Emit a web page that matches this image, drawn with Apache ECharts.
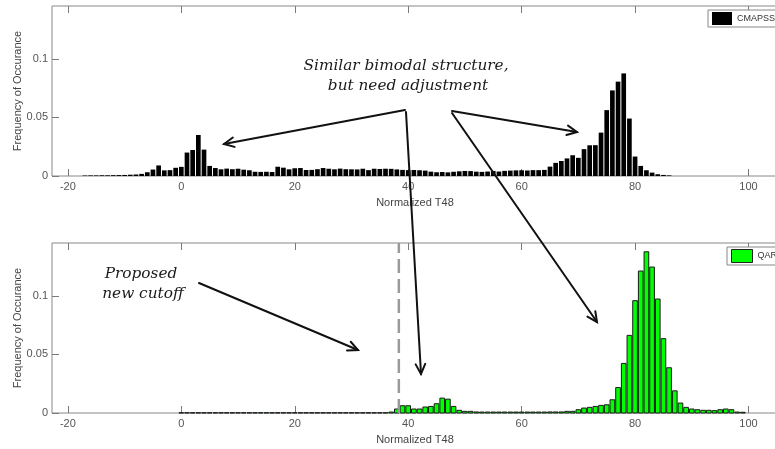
<!DOCTYPE html>
<html>
<head>
<meta charset="utf-8">
<script src="https://cdn.jsdelivr.net/npm/echarts@6/dist/echarts.min.js"></script>
<style>
  html, body { margin: 0; padding: 0; background: #fff; }
  #chart { width: 775px; height: 449px; }
</style>
</head>
<body>
<div id="chart"></div>
<script>
// Axis ticks shared by both panels
const xTicks = [-20, 0, 20, 40, 60, 80, 100];
const yTicks = [0, 0.05, 0.1];

// CMAPSS histogram: bin centres (normalized T48) and frequency of occurrence
const cmapssBins = [
  -17, -16, -15, -14, -13, -12, -11, -10, -9, -8, -7, -6, -5, -4, -3, -2, -1,
  0, 1, 2, 3, 4, 5, 6, 7, 8, 9, 10, 11, 12, 13, 14, 15, 16, 17, 18, 19,
  20, 21, 22, 23, 24, 25, 26, 27, 28, 29, 30, 31, 32, 33, 34, 35, 36, 37, 38, 39,
  40, 41, 42, 43, 44, 45, 46, 47, 48, 49, 50, 51, 52, 53, 54, 55, 56, 57, 58, 59,
  60, 61, 62, 63, 64, 65, 66, 67, 68, 69, 70, 71, 72, 73, 74, 75, 76, 77, 78, 79,
  80, 81, 82, 83, 84, 85, 86
];
const cmapssFreq = [
  0.0004, 0.0005, 0.0005, 0.0006, 0.0006, 0.0007, 0.0008, 0.0009, 0.0011, 0.0013, 0.0018, 0.0032, 0.0055, 0.0090, 0.0048, 0.0050, 0.0070,
  0.0078, 0.0200, 0.0222, 0.0350, 0.0225, 0.0086, 0.0068, 0.0057, 0.0063, 0.0058, 0.0062, 0.0054, 0.0049, 0.0036, 0.0035, 0.0036, 0.0034, 0.0079, 0.0071, 0.0057,
  0.0066, 0.0068, 0.0051, 0.0052, 0.0058, 0.0068, 0.0062, 0.0057, 0.0063, 0.0058, 0.0057, 0.0056, 0.0062, 0.0050, 0.0062, 0.0060, 0.0062, 0.0061, 0.0056, 0.0052,
  0.0050, 0.0051, 0.0049, 0.0046, 0.0037, 0.0032, 0.0034, 0.0031, 0.0036, 0.0040, 0.0043, 0.0042, 0.0037, 0.0035, 0.0038, 0.0043, 0.0038, 0.0044, 0.0046, 0.0048,
  0.0049, 0.0047, 0.0050, 0.0050, 0.0052, 0.0080, 0.0112, 0.0128, 0.0150, 0.0177, 0.0155, 0.0229, 0.0262, 0.0263, 0.0370, 0.0562, 0.0730, 0.0805, 0.0875, 0.0490,
  0.0166, 0.0086, 0.0049, 0.0029, 0.0015, 0.0009, 0.0005
];

// QAR histogram: bin centres and frequency of occurrence
const qarBins = [
  0, 1, 2, 3, 4, 5, 6, 7, 8, 9, 10, 11, 12, 13, 14, 15, 16, 17, 18, 19,
  20, 21, 22, 23, 24, 25, 26, 27, 28, 29, 30, 31, 32, 33, 34, 35, 36, 37, 38, 39,
  40, 41, 42, 43, 44, 45, 46, 47, 48, 49, 50, 51, 52, 53, 54, 55, 56, 57, 58, 59,
  60, 61, 62, 63, 64, 65, 66, 67, 68, 69, 70, 71, 72, 73, 74, 75, 76, 77, 78, 79,
  80, 81, 82, 83, 84, 85, 86, 87, 88, 89, 90, 91, 92, 93, 94, 95, 96, 97, 98, 99
];
const qarFreq = [
  0.0002, 0.0002, 0.0002, 0.0002, 0.0002, 0.0002, 0.0002, 0.0002, 0.0002, 0.0002, 0.0002, 0.0002, 0.0002, 0.0002, 0.0002, 0.0002, 0.0002, 0.0002, 0.0002, 0.0002,
  0.0002, 0.0002, 0.0002, 0.0002, 0.0002, 0.0002, 0.0002, 0.0002, 0.0002, 0.0002, 0.0002, 0.0002, 0.0002, 0.0002, 0.0002, 0.0002, 0.0002, 0.0008, 0.0034, 0.0062,
  0.0062, 0.0034, 0.0034, 0.0051, 0.0056, 0.0079, 0.0127, 0.0118, 0.0056, 0.0023, 0.0014, 0.0014, 0.0009, 0.0008, 0.0008, 0.0008, 0.0008, 0.0008, 0.0008, 0.0008,
  0.0008, 0.0008, 0.0008, 0.0008, 0.0008, 0.0009, 0.0009, 0.0009, 0.0014, 0.0014, 0.0028, 0.0042, 0.0048, 0.0056, 0.0065, 0.0070, 0.0113, 0.0217, 0.0423, 0.0662,
  0.0958, 0.1211, 0.1375, 0.1245, 0.0972, 0.0634, 0.0386, 0.0189, 0.0085, 0.0048, 0.0034, 0.0028, 0.0023, 0.0023, 0.0020, 0.0028, 0.0034, 0.0028, 0.0008, 0.0006
];

// Proposed new lower cutoff for the QAR data (normalized T48)
const cutoffT48 = 38.35;

const xMin = -22.8, xMax = 105.2, yMax = 0.145;
const tickGrey = '#7a7a7a';
const labelGrey = '#555';
const sansFont = '"Liberation Sans", Arial, sans-serif';

// Draws one histogram bin from its centre to +/- half a unit, leaving a thin gap
function binRenderer(fill, stroke) {
  return function (params, api) {
    const c = api.value(0), v = api.value(1);
    const pTop = api.coord([c - 0.5, v]);
    const pBase = api.coord([c + 0.5, 0]);
    const left = pTop[0] + 0.5;
    const width = pBase[0] - pTop[0] - 1;
    return {
      type: 'rect',
      shape: { x: left, y: pTop[1], width: width, height: pBase[1] - pTop[1] },
      style: stroke ? { fill: fill, stroke: stroke, lineWidth: 1 } : { fill: fill }
    };
  };
}

function bottomAxis(gridIndex) {
  return {
    gridIndex: gridIndex, type: 'value', position: 'bottom', min: xMin, max: xMax,
    name: 'Normalized T48', nameLocation: 'middle', nameGap: 21, nameMoveOverlap: false,
    nameTextStyle: { color: '#444', fontSize: 11, fontFamily: sansFont },
    axisLine: { show: false, onZero: false },
    axisTick: { inside: true, length: 7, customValues: xTicks, lineStyle: { color: tickGrey } },
    axisLabel: { customValues: xTicks, margin: 5, color: labelGrey, fontSize: 11, fontFamily: sansFont },
    splitLine: { show: false }
  };
}
function topAxis(gridIndex) {
  return {
    gridIndex: gridIndex, type: 'value', position: 'top', min: xMin, max: xMax,
    axisLine: { show: false, onZero: false },
    axisTick: { inside: true, length: 7, customValues: xTicks, lineStyle: { color: tickGrey } },
    axisLabel: { show: false },
    splitLine: { show: false }
  };
}
function freqAxis(gridIndex) {
  return {
    gridIndex: gridIndex, type: 'value', position: 'left', min: 0, max: yMax,
    name: 'Frequency of Occurance', nameLocation: 'middle', nameGap: 29, nameMoveOverlap: false,
    nameTextStyle: { color: '#444', fontSize: 11, fontFamily: sansFont },
    axisLine: { show: false, onZero: false },
    axisTick: { inside: true, length: 7, customValues: yTicks, lineStyle: { color: tickGrey } },
    axisLabel: { customValues: yTicks, margin: 4, color: labelGrey, fontSize: 11, fontFamily: sansFont,
                 formatter: function (v) { return String(v); } },
    splitLine: { show: false }
  };
}

// Hand-drawn style annotations: italic captions and open-headed arrows
const captions = [
  { text: 'Similar bimodal structure,', x: 406, y: 66 },
  { text: 'but need adjustment', x: 408, y: 86 },
  { text: 'Proposed', x: 141, y: 274 },
  { text: 'new cutoff', x: 143, y: 294 }
];
const arrows = [
  [405, 110, 224, 144],
  [452, 111, 577, 132],
  [406, 112, 421, 374],
  [452, 113, 597, 322],
  [199, 283, 358, 350]
];

function arrowGraphics(a) {
  const [x1, y1, x2, y2] = a;
  const ang = Math.atan2(y2 - y1, x2 - x1);
  const len = 11, spread = 0.45;
  const h1 = [x2 - len * Math.cos(ang - spread), y2 - len * Math.sin(ang - spread)];
  const h2 = [x2 - len * Math.cos(ang + spread), y2 - len * Math.sin(ang + spread)];
  const style = { stroke: '#111', lineWidth: 2, fill: null, lineCap: 'round', lineJoin: 'miter' };
  return [
    { type: 'polyline', z: 100, shape: { points: [[x1, y1], [x2, y2]] }, style: style, silent: true },
    { type: 'polyline', z: 100, shape: { points: [h1, [x2, y2], h2] }, style: style, silent: true }
  ];
}

const graphics = [];
captions.forEach(function (c) {
  graphics.push({
    type: 'text', z: 100, x: c.x, y: c.y, silent: true,
    style: {
      text: c.text, fill: '#1a1a1a', fontSize: 15.3, fontStyle: 'italic',
      fontFamily: '"DejaVu Serif", serif', align: 'center', verticalAlign: 'middle'
    }
  });
});
arrows.forEach(function (a) { arrowGraphics(a).forEach(function (g) { graphics.push(g); }); });

const chart = echarts.init(document.getElementById('chart'), null, { renderer: 'canvas' });
chart.setOption({
  animation: false,
  backgroundColor: '#fff',
  grid: [
    { left: 52, top: 6, width: 726, height: 170, show: true, borderColor: '#888', borderWidth: 1,
      backgroundColor: 'transparent', containLabel: false, outerBoundsMode: 'none' },
    { left: 52, top: 243, width: 726, height: 170, show: true, borderColor: '#888', borderWidth: 1,
      backgroundColor: 'transparent', containLabel: false, outerBoundsMode: 'none' }
  ],
  xAxis: [bottomAxis(0), topAxis(0), bottomAxis(1), topAxis(1)],
  yAxis: [freqAxis(0), freqAxis(1)],
  legend: [
    {
      left: 708, top: 10, icon: 'rect', itemWidth: 20, itemHeight: 13, itemGap: 4,
      selectedMode: false, backgroundColor: '#fff', borderColor: '#888', borderWidth: 1,
      padding: [2, 30, 2, 4],
      textStyle: { fontSize: 9, color: '#333', fontFamily: sansFont },
      data: [{ name: 'CMAPSS', itemStyle: { color: '#000' } }]
    },
    {
      left: 727, top: 247, icon: 'rect', itemWidth: 21, itemHeight: 13, itemGap: 4,
      selectedMode: false, backgroundColor: '#fff', borderColor: '#888', borderWidth: 1,
      padding: [2, 30, 2, 4],
      textStyle: { fontSize: 9, color: '#333', fontFamily: sansFont },
      data: [{ name: 'QAR', itemStyle: { color: '#00ff00', borderColor: '#222', borderWidth: 1 } }]
    }
  ],
  series: [
    {
      type: 'custom', name: 'CMAPSS', xAxisIndex: 0, yAxisIndex: 0, silent: true, z: 3,
      itemStyle: { color: '#000' },
      encode: { x: 0, y: 1 },
      renderItem: binRenderer('#000', null),
      data: cmapssBins.map(function (b, i) { return [b, cmapssFreq[i]]; })
    },
    {
      type: 'custom', name: 'QAR', xAxisIndex: 2, yAxisIndex: 1, silent: true, z: 3,
      itemStyle: { color: '#00ff00' },
      encode: { x: 0, y: 1 },
      renderItem: binRenderer('#00ff00', '#1a1a1a'),
      data: qarBins.map(function (b, i) { return [b, qarFreq[i]]; })
    },
    {
      type: 'line', name: 'cutoff', xAxisIndex: 2, yAxisIndex: 1, silent: true, z: 4,
      symbol: 'none',
      lineStyle: { color: '#9a9a9a', width: 2.5, type: [14, 6] },
      data: [[cutoffT48, 0], [cutoffT48, yMax]]
    }
  ],
  graphic: graphics
});
</script>
</body>
</html>
